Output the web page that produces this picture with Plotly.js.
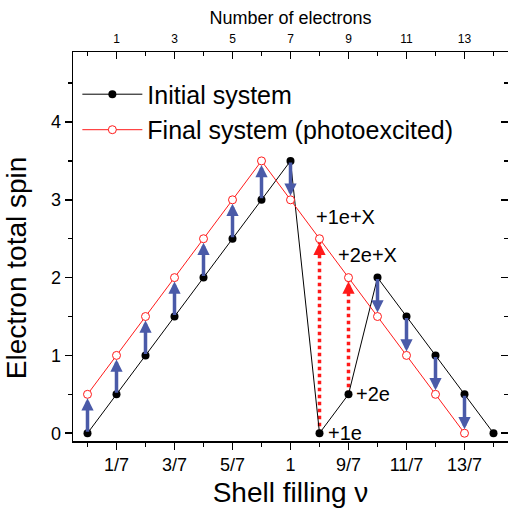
<!DOCTYPE html>
<html><head><meta charset="utf-8">
<script src="https://cdn.plot.ly/plotly-3.0.1.min.js"></script>
<style>html,body{margin:0;padding:0;background:#fff}#chart{width:508px;height:513px}</style>
</head><body><div id="chart"></div>
<script>
const electronsInitial = [0,1,2,3,4,5,6,7,8,9,10,11,12,13,14];
const spinInitial      = [0,0.5,1,1.5,2,2.5,3,3.5,0,0.5,2,1.5,1,0.5,0];
const electronsFinal   = [0,1,2,3,4,5,6,7,8,9,10,11,12,13];
const spinFinal        = [0.5,1,1.5,2,2.5,3,3.5,3,2.5,2,1.5,1,0.5,0];
const blueArrowAt = [0,1,2,3,4,5,6,7,10,11,12,13];
const redArrowAt  = [8,9];
const fillingTickVals = [1,3,5,7,9,11,13];
const fillingTickText = ['1/7','3/7','5/7','1','9/7','11/7','13/7'];
const electronTickText = ['1','3','5','7','9','11','13'];
const spinTicks = [0,1,2,3,4];
const processLabels  = ['+1e','+2e','+1e+X','+2e+X'];
const processLabelAt = [8,9,8,9];
const processLabelOn = ['initial','initial','final','final'];
const processShiftX  = [6,5,-6,-13];
const processShiftY  = [0,0,22,23];

const FONT = 'Liberation Sans, Arial, sans-serif';
const BLUE = '#4a5aa8';
const RED = '#ff1a1a';
const spinI = n => spinInitial[electronsInitial.indexOf(n)];
const spinF = n => spinFinal[electronsFinal.indexOf(n)];

const traces = [];
redArrowAt.forEach(n => {
  traces.push({x:[n,n], y:[spinI(n), spinF(n)], xaxis:'x', yaxis:'y', mode:'lines',
    line:{color:RED, width:3.5, dash:'dot'}, showlegend:false, hoverinfo:'skip'});
});
traces.push({x:electronsInitial, y:spinInitial, name:'Initial system', mode:'lines+markers',
  xaxis:'x', yaxis:'y',
  line:{color:'#000', width:1}, marker:{symbol:'circle', size:8, color:'#000'}});
traces.push({x:electronsFinal, y:spinFinal, name:'Final system (photoexcited)', mode:'lines+markers',
  xaxis:'x2', yaxis:'y2',
  line:{color:RED, width:1}, marker:{symbol:'circle', size:8, color:'#fff', line:{color:RED, width:1}}});

const annotations = [];
blueArrowAt.forEach(n => {
  annotations.push({x:n, y:spinF(n), ax:n, ay:spinI(n), xref:'x', yref:'y', axref:'x', ayref:'y',
    text:'', showarrow:true, arrowhead:2, arrowsize:0.7, arrowwidth:3.5, arrowcolor:BLUE, standoff:4});
});
redArrowAt.forEach(n => {
  annotations.push({x:n, y:spinF(n), ax:0, ay:13, xref:'x', yref:'y',
    text:'', showarrow:true, arrowhead:2, arrowsize:0.7, arrowwidth:3.5, arrowcolor:RED, standoff:4});
});
processLabels.forEach((t,i) => {
  const n = processLabelAt[i];
  const yv = processLabelOn[i] === 'initial' ? spinI(n) : spinF(n);
  annotations.push({x:n, y:yv, xref:'x', yref:'y', text:t, showarrow:false,
    xanchor:'left', yanchor:'middle', xshift:processShiftX[i], yshift:processShiftY[i],
    font:{family:FONT, size:20, color:'#000'}});
});
annotations.push({xref:'paper', yref:'paper', x:-0.128, y:0.445, text:'Electron total spin',
  textangle:-90, showarrow:false, xanchor:'center', yanchor:'middle',
  font:{family:FONT, size:28, color:'#000'}});

const axBase = {showgrid:false, zeroline:false, linecolor:'#000', linewidth:1.5, color:'#000',
  tickcolor:'#000', tickwidth:1.5};
const layout = {
  width:508, height:513, margin:{l:73, r:0, t:52, b:72},
  paper_bgcolor:'#fff', plot_bgcolor:'#fff',
  font:{family:FONT, color:'#000'},
  showlegend:true,
  legend:{x:0.01, y:0.95, xanchor:'left', yanchor:'top', bgcolor:'rgba(0,0,0,0)',
    font:{family:FONT, size:25}, itemwidth:60, tracegroupgap:0},
  xaxis:Object.assign({}, axBase, {range:[-0.5,14.5], tickmode:'array', tickvals:fillingTickVals,
    ticktext:fillingTickText, ticks:'outside', ticklen:7, tickfont:{size:18},
    minor:{tickmode:'linear', tick0:0, dtick:1, ticks:'outside', ticklen:4, tickwidth:1.5, tickcolor:'#000'},
    title:{text:'Shell filling \u03bd', font:{size:28}, standoff:8}}),
  yaxis:Object.assign({}, axBase, {range:[-0.1,4.9], tickmode:'array', tickvals:spinTicks,
    ticks:'outside', ticklen:7, tickfont:{size:18}, mirror:true,
    minor:{tickmode:'linear', tick0:0, dtick:0.5, ticks:'outside', ticklen:4, tickwidth:1.5, tickcolor:'#000'}}),
  xaxis2:Object.assign({}, axBase, {range:[-0.5,14.5], overlaying:'x', side:'top', anchor:'y2',
    tickmode:'array', tickvals:fillingTickVals, ticktext:electronTickText, ticks:'inside', ticklen:7,
    tickfont:{size:12}, ticklabelstandoff:3,
    minor:{tickmode:'linear', tick0:0, dtick:1, ticks:'inside', ticklen:4, tickwidth:1.5, tickcolor:'#000'},
    title:{text:'Number of electrons', font:{size:18}, standoff:2}}),
  yaxis2:Object.assign({}, axBase, {range:[-0.1,4.9], overlaying:'y', side:'right', anchor:'x2',
    tickmode:'array', tickvals:spinTicks, ticks:'inside', ticklen:7, showticklabels:false,
    minor:{tickmode:'linear', tick0:0, dtick:0.5, ticks:'inside', ticklen:4, tickwidth:1.5, tickcolor:'#000'}}),
  annotations:annotations
};
Plotly.newPlot('chart', traces, layout, {displayModeBar:false, staticPlot:true});
</script></body></html>
